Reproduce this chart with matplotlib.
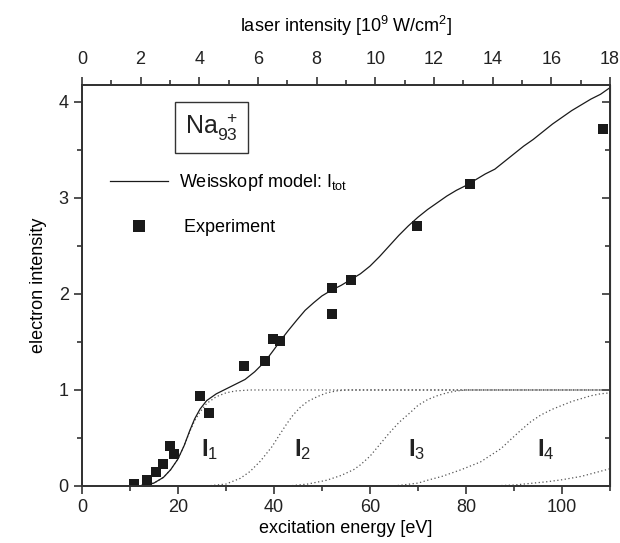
import matplotlib
matplotlib.use('Agg')
import matplotlib.pyplot as plt
from matplotlib.ticker import MultipleLocator

plt.rcParams['font.family'] = ['Liberation Sans', 'DejaVu Sans']
plt.rcParams['mathtext.fontset'] = 'custom'
plt.rcParams['mathtext.rm'] = 'Liberation Sans'
plt.rcParams['mathtext.it'] = 'Liberation Sans:italic'
plt.rcParams['mathtext.bf'] = 'Liberation Sans:bold'

# experimental points (excitation energy [eV], electron intensity)
exp_energy = [10.9, 13.6, 15.4, 17.0, 18.4, 19.2, 24.6, 26.4, 33.7, 38.2, 39.8,
              41.3, 52.1, 52.1, 56.1, 69.8, 80.8, 108.6]
exp_intens = [0.02, 0.06, 0.15, 0.23, 0.42, 0.33, 0.94, 0.76, 1.25, 1.30, 1.53,
              1.51, 2.06, 1.79, 2.15, 2.71, 3.15, 3.72]

# Weisskopf model, total intensity
tot_energy = [12, 13.5, 15, 17, 18.5, 20, 21.3, 22.5, 23.5, 24.6, 26, 28, 30, 32, 34,
              36, 38.2, 40, 41.3, 43, 44.8, 46.5, 48.3, 50, 52, 54, 56, 58, 60, 62,
              64, 66, 68, 70, 72, 74, 76, 78, 80, 82, 84, 86, 88, 90, 92, 94, 96,
              98, 100, 102, 104, 106, 108, 110]
tot_intens = [0.0, 0.01, 0.03, 0.09, 0.17, 0.28, 0.42, 0.58, 0.70, 0.80, 0.89, 0.96,
              1.01, 1.06, 1.11, 1.19, 1.30, 1.42, 1.51, 1.62, 1.73, 1.83, 1.91, 1.98,
              2.04, 2.09, 2.15, 2.21, 2.29, 2.39, 2.50, 2.61, 2.71, 2.80, 2.88, 2.95,
              3.02, 3.08, 3.13, 3.19, 3.25, 3.30, 3.38, 3.46, 3.54, 3.61, 3.69, 3.77,
              3.84, 3.91, 3.97, 4.03, 4.08, 4.15]

# partial intensities I_1 .. I_5 (dotted)
i1_energy = [10, 13, 15, 17, 18.5, 20, 21.3, 22.5, 23.5, 24.6, 26, 28, 30, 32, 35, 110]
i1_intens = [0.0, 0.01, 0.03, 0.09, 0.17, 0.28, 0.42, 0.57, 0.68, 0.77, 0.86, 0.93,
             0.97, 0.99, 1.0, 1.0]
i2_energy = [26, 30, 33, 35, 37.2, 39.6, 41, 42.7, 44, 45.5, 47, 49, 51, 53, 55, 110]
i2_intens = [0.0, 0.02, 0.08, 0.15, 0.26, 0.41, 0.52, 0.65, 0.74, 0.82, 0.88, 0.93,
             0.97, 0.99, 1.0, 1.0]
i3_energy = [43, 47, 51, 54, 56.6, 58, 60, 62, 64, 66, 68.5, 70, 72, 74, 76, 78, 80, 110]
i3_intens = [0.0, 0.02, 0.06, 0.11, 0.17, 0.22, 0.31, 0.43, 0.55, 0.66, 0.77, 0.84,
             0.90, 0.94, 0.97, 0.99, 1.0, 1.0]
i4_energy = [65, 70, 72, 75, 79, 83, 87.3, 89, 91.4, 93.5, 95.6, 98, 100, 102, 104,
             106, 108, 110]
i4_intens = [0.0, 0.03, 0.06, 0.10, 0.17, 0.25, 0.39, 0.47, 0.58, 0.67, 0.74, 0.80,
             0.84, 0.88, 0.91, 0.94, 0.96, 0.97]
i5_energy = [85, 90, 94, 97, 100, 104, 107, 110]
i5_intens = [0.0, 0.01, 0.03, 0.045, 0.065, 0.10, 0.14, 0.18]

partial_labels = ['1', '2', '3', '4']
label_energy = [24.8, 44.2, 68.0, 94.7]

fig = plt.figure(figsize=(6.2, 5.43), dpi=100)
ax = fig.add_axes([0.132, 0.105, 0.852, 0.739])

dot = dict(color='#555555', lw=0.9, linestyle=(0, (1, 2.0)))
for e, v in [(i1_energy, i1_intens), (i2_energy, i2_intens), (i3_energy, i3_intens),
             (i4_energy, i4_intens), (i5_energy, i5_intens)]:
    ax.plot(e, v, **dot)

line_tot, = ax.plot(tot_energy, tot_intens, color='#1a1a1a', lw=0.9,
                    label=r'Weisskopf model: $\mathregular{I_{tot}}$')
pts, = ax.plot(exp_energy, exp_intens, 's', color='#1a1a1a', ms=6.5, mew=0,
               label=' Experiment', zorder=3)

for lab, e in zip(partial_labels, label_energy):
    ax.text(e, 0.38, r'$\mathbf{I}_{%s}$' % lab, fontsize=17, color='#222222',
            ha='left', va='center')

ax.set_xlim(0, 110)
ax.set_ylim(0, 4.18)
ax.xaxis.set_major_locator(MultipleLocator(20))
ax.xaxis.set_minor_locator(MultipleLocator(10))
ax.yaxis.set_major_locator(MultipleLocator(1))
ax.yaxis.set_minor_locator(MultipleLocator(0.5))
ax.tick_params(which='both', direction='out', labelsize=13, colors='#222222',
               width=1.1)
ax.tick_params(which='major', length=6)
ax.tick_params(which='minor', length=3.5)
ax.set_xlabel('excitation energy [eV]', fontsize=13, labelpad=3)
ax.set_ylabel('electron intensity', fontsize=13, labelpad=8)
for sp in ax.spines.values():
    sp.set_linewidth(1.3)
    sp.set_color('#333333')

# top axis: laser intensity
ax_top = ax.twiny()
ax_top.set_xlim(0, 18)
ax_top.xaxis.set_major_locator(MultipleLocator(2))
ax_top.xaxis.set_minor_locator(MultipleLocator(1))
ax_top.tick_params(which='both', direction='out', labelsize=13, colors='#222222',
                   width=1.1, pad=6)
ax_top.tick_params(which='major', length=6)
ax_top.tick_params(which='minor', length=3.5)
ax_top.set_xlabel(r'laser intensity [10$^{\mathregular{9}}$ W/cm$^{\mathregular{2}}$]',
                  fontsize=13, labelpad=14)
for sp in ax_top.spines.values():
    sp.set_linewidth(1.3)
    sp.set_color('#333333')

# right spine ticks pointing inward
ax_r = ax.secondary_yaxis('right')
ax_r.yaxis.set_major_locator(MultipleLocator(1))
ax_r.yaxis.set_minor_locator(MultipleLocator(0.5))
ax_r.tick_params(which='both', direction='in', labelright=False, width=1.1,
                 colors='#222222')
ax_r.tick_params(which='major', length=6)
ax_r.tick_params(which='minor', length=3.5)

ax.text(0.245, 0.893, r'Na$_{\mathregular{93}}^{\ \ \mathregular{+}}$', transform=ax.transAxes,
        fontsize=18, ha='center', va='center', color='#222222',
        bbox=dict(boxstyle='square,pad=0.4', fc='white', ec='#333333', lw=1.0))

ax.legend(handles=[line_tot, pts], loc='upper left', bbox_to_anchor=(0.04, 0.8),
          frameon=False, fontsize=13, handlelength=3.2, handletextpad=0.6,
          labelspacing=1.45, borderaxespad=0, markerscale=1.3)

fig.savefig('out.png', dpi=100)
